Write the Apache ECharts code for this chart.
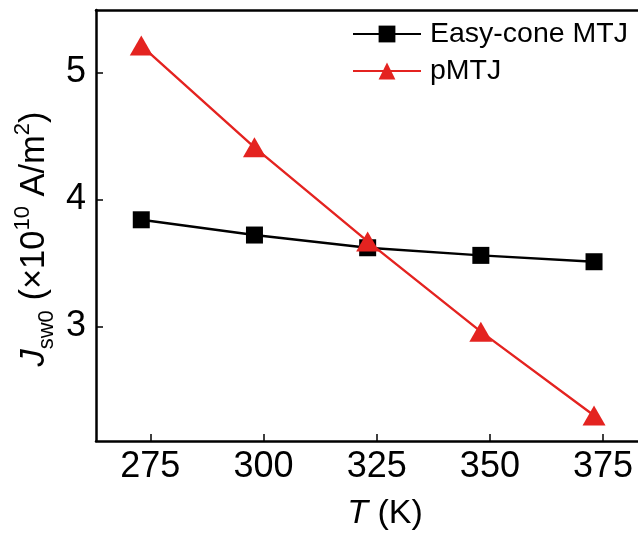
<!DOCTYPE html>
<html>
<head>
<meta charset="utf-8">
<script src="https://cdn.jsdelivr.net/npm/echarts@6/dist/echarts.min.js"></script>
<style>
  html, body { margin: 0; padding: 0; background: #fff; }
  #chart { width: 638px; height: 533px; }
</style>
</head>
<body>
<div id="chart"></div>
<script>
// Switching current density vs temperature for two MTJ types
const temperatures = [273, 298, 323, 348, 373];
const easyConeJ = [3.84, 3.72, 3.62, 3.56, 3.51];
const pmtjJ = [5.21, 4.41, 3.67, 2.96, 2.30];
const seriesNames = ['Easy-cone MTJ', 'pMTJ'];
const xTickValues = [275, 300, 325, 350, 375];
const yTickValues = [3, 4, 5];

const FONT = 'Liberation Sans, Arial, Helvetica, sans-serif';
const RED = '#e42320';

const pairs = (ys) => temperatures.map((t, i) => [t, ys[i]]);

const chart = echarts.init(document.getElementById('chart'));
chart.setOption({
  animation: false,
  backgroundColor: '#fff',
  grid: {
    left: 96, top: 10, bottom: 92, right: -33,
    outerBoundsMode: 'none',
    containLabel: false,
    show: false
  },
  legend: {
    orient: 'vertical',
    left: 347, top: 14,
    itemWidth: 68, itemHeight: 21, itemGap: 7,
    textStyle: { fontFamily: FONT, fontSize: 28.5, color: '#000', lineHeight: 30, padding: [0, 0, 0, 4] },
    data: seriesNames
  },
  graphic: [
    {
      type: 'text', x: 32, y: 239, rotation: Math.PI / 2,
      style: {
        text: '{i|J}{sub|sw0}{n| (×10}{sup|10}{n| A/m}{sup|2}{n|)}',
        align: 'center', verticalAlign: 'middle',
        rich: {
          i: { fontFamily: FONT, fontSize: 34.5, fontStyle: 'italic', fill: '#000', lineHeight: 40, verticalAlign: 'bottom' },
          n: { fontFamily: FONT, fontSize: 34.5, fill: '#000', lineHeight: 40, verticalAlign: 'bottom' },
          sub: { fontFamily: FONT, fontSize: 22, fill: '#000', lineHeight: 22, verticalAlign: 'bottom', padding: [0, 0, -6, 0] },
          sup: { fontFamily: FONT, fontSize: 22, fill: '#000', lineHeight: 22, verticalAlign: 'top' }
        }
      }
    },
    {
      type: 'text', x: 385, y: 514,
      style: {
        text: '{i|T}{n| (K)}',
        align: 'center', verticalAlign: 'middle',
        rich: {
          i: { fontFamily: FONT, fontSize: 34, fontStyle: 'italic', fill: '#000' },
          n: { fontFamily: FONT, fontSize: 34, fill: '#000' }
        }
      }
    }
  ],
  xAxis: [
    {
      type: 'value', min: 263, max: 390, position: 'bottom',
      axisLine: { lineStyle: { color: '#000', width: 2.5 } },
      axisTick: { inside: true, length: 7, lineStyle: { color: '#000', width: 1.5 }, customValues: xTickValues },
      axisLabel: { fontFamily: FONT, fontSize: 36, color: '#000', margin: 8, customValues: xTickValues },
      splitLine: { show: false }
    },
    {
      // frame line along the top edge
      type: 'value', min: 263, max: 390, position: 'top',
      axisLine: { lineStyle: { color: '#000', width: 2.5 } },
      axisTick: { show: false }, axisLabel: { show: false }, splitLine: { show: false }
    }
  ],
  yAxis: {
    type: 'value', min: 2.1, max: 5.49,
    axisLine: { lineStyle: { color: '#000', width: 2.5 } },
    axisTick: { inside: true, length: 7, lineStyle: { color: '#000', width: 1.5 }, customValues: yTickValues },
    axisLabel: { fontFamily: FONT, fontSize: 36, color: '#000', margin: 10, customValues: yTickValues },
    splitLine: { show: false }
  },
  series: [
    {
      name: seriesNames[0], type: 'line',
      data: pairs(easyConeJ),
      symbol: 'rect', symbolSize: 17,
      lineStyle: { color: '#000', width: 2.4 },
      itemStyle: { color: '#000' },
      z: 2
    },
    {
      name: seriesNames[1], type: 'line',
      data: pairs(pmtjJ),
      symbol: 'triangle', symbolSize: [23, 20],
      lineStyle: { color: RED, width: 2.4 },
      itemStyle: { color: RED },
      z: 3
    }
  ]
});
</script>
</body>
</html>
